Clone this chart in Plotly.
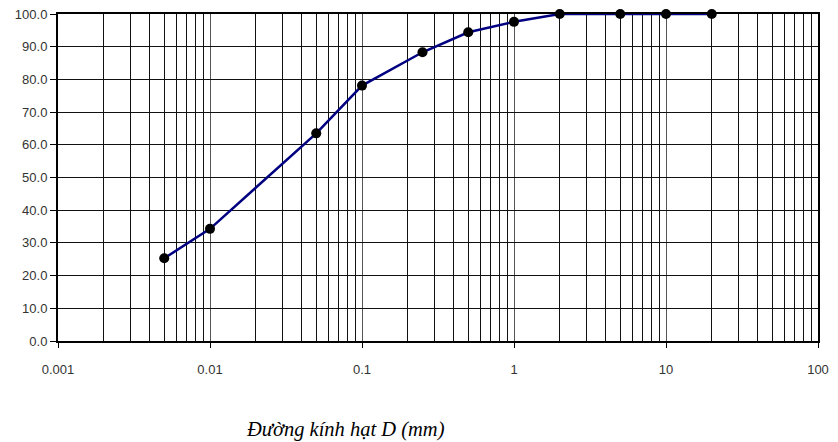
import plotly.graph_objects as go

# Data
diameters = [0.005, 0.01, 0.05, 0.1, 0.25, 0.5, 1, 2, 5, 10, 20]
percent_passing = [25.3, 34.3, 63.5, 78.1, 88.3, 94.4, 97.6, 100.0, 100.0, 100.0, 100.0]

x_tick_vals = [0.001, 0.01, 0.1, 1, 10, 100]
x_tick_text = ["0.001", "0.01", "0.1", "1", "10", "100"]
y_tick_vals = [0, 10, 20, 30, 40, 50, 60, 70, 80, 90, 100]
x_title = "Đường kính hạt D (mm)"

minor_vals = [m * d for d in [0.001, 0.01, 0.1, 1, 10] for m in range(2, 10)]

fig = go.Figure()
fig.add_trace(go.Scatter(
    x=diameters, y=percent_passing, mode="lines+markers",
    line=dict(color="#000080", width=2.5),
    marker=dict(color="black", size=10),
    showlegend=False, cliponaxis=False,
))

fig.update_layout(
    width=838, height=442,
    margin=dict(l=58, r=20, t=14, b=101),
    paper_bgcolor="white", plot_bgcolor="white",
    font=dict(family="Liberation Sans, Arial", size=13, color="#333"),
)
fig.update_xaxes(
    type="log", range=[-3, 2], automargin=False,
    tickmode="array", tickvals=x_tick_vals, ticktext=x_tick_text,
    showgrid=True, gridcolor="#555", gridwidth=1,
    minor=dict(tickmode="array", tickvals=minor_vals, showgrid=True,
               gridcolor="#111", gridwidth=1, ticks=""),
    ticks="outside", ticklen=5, tickcolor="black", tickwidth=1,
    ticklabelstandoff=10,
    showline=True, linecolor="black", linewidth=2, mirror=True,
    zeroline=False,
)
fig.update_yaxes(
    range=[0, 100], tickmode="array", tickvals=y_tick_vals, automargin=False,
    tickformat=".1f",
    showgrid=True, gridcolor="#111", gridwidth=1,
    ticks="outside", ticklen=6, tickcolor="black", tickwidth=1,
    showline=True, linecolor="black", linewidth=2, mirror=True,
    zeroline=False,
)
fig.add_annotation(
    text=x_title, xref="paper", yref="paper",
    x=0.378, y=-0.272, xanchor="center", yanchor="middle",
    showarrow=False,
    font=dict(family="Liberation Serif, Times New Roman", size=20.5, color="black", style="italic"),
)
fig.write_html("out.html")
